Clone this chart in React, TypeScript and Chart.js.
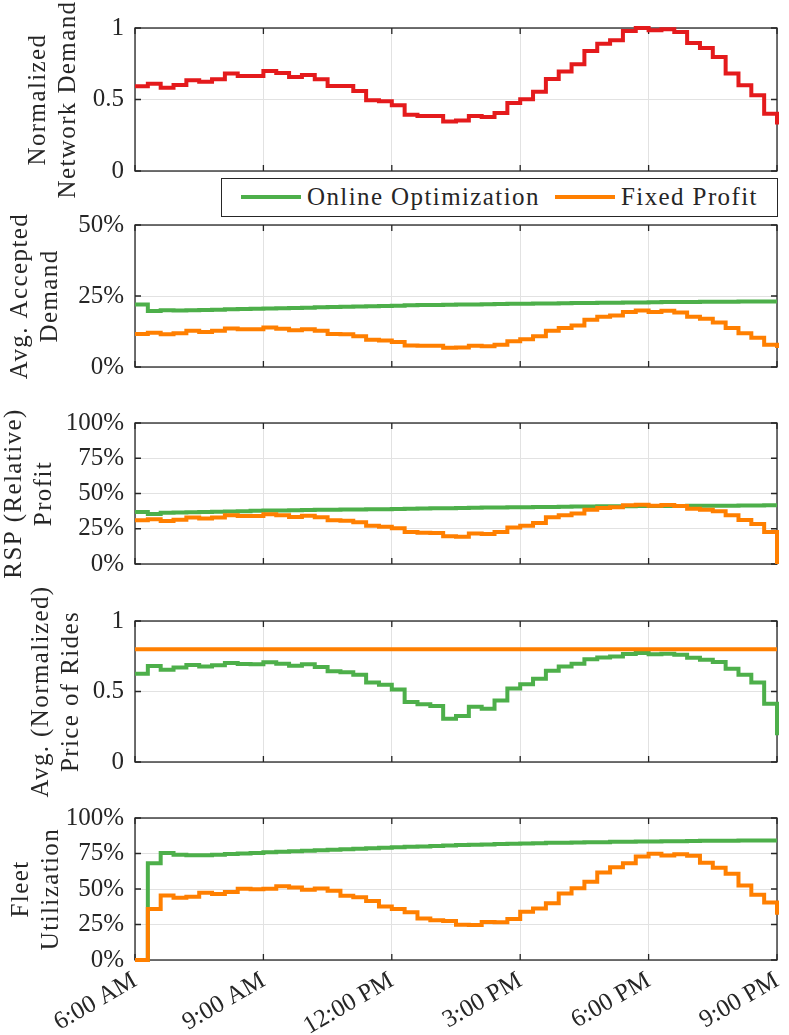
import { useEffect, useRef } from "react";
import { Chart, registerables } from "chart.js";

Chart.register(...registerables);

const FONT = "'Liberation Serif', serif";
const INK = "#262626";
const GRID = "#e2e2e2";
const RED = "#e41a1c";
const GREEN = "#4daf4a";
const ORANGE = "#ff7f00";
const TICK_LEN = 6;
const TITLE_SPACING = "1.4px";

// one value per 18-minute slot from 6:00 AM, plus the value at 9:00 PM
const timeLabels = ["6:00 AM", "9:00 AM", "12:00 PM", "3:00 PM", "6:00 PM", "9:00 PM"];
const seriesNames = ["Online Optimization", "Fixed Profit"];

const networkDemand = [
  0.592, 0.611, 0.583, 0.601, 0.634, 0.625, 0.641, 0.681, 0.664, 0.664,
  0.699, 0.685, 0.657, 0.671, 0.641, 0.594, 0.594, 0.559, 0.494, 0.487,
  0.459, 0.394, 0.385, 0.385, 0.347, 0.354, 0.385, 0.378, 0.406, 0.476,
  0.501, 0.555, 0.643, 0.695, 0.746, 0.839, 0.89, 0.914, 0.979, 1.0,
  0.984, 0.991, 0.972, 0.895, 0.86, 0.797, 0.681, 0.599, 0.529, 0.401, 0.326,
];

const acceptedOnline = [
  22.0, 19.7, 20.0, 19.9, 20.0, 20.1, 20.2, 20.3, 20.4, 20.5,
  20.6, 20.7, 20.8, 20.9, 21.0, 21.1, 21.2, 21.3, 21.4, 21.5,
  21.6, 21.7, 21.8, 21.85, 21.9, 22.0, 22.05, 22.1, 22.2, 22.25,
  22.3, 22.35, 22.4, 22.45, 22.5, 22.55, 22.6, 22.65, 22.7, 22.75,
  22.8, 22.85, 22.9, 22.9, 22.95, 23.0, 23.0, 23.05, 23.1, 23.1, 23.1,
];
const acceptedFixed = [
  11.6, 12.1, 11.5, 11.9, 12.8, 12.3, 12.8, 13.6, 13.3, 13.3,
  13.9, 13.5, 12.9, 13.3, 12.8, 11.6, 11.5, 10.8, 9.6, 9.3,
  8.8, 7.6, 7.5, 7.5, 6.8, 6.9, 7.5, 7.3, 7.8, 9.1,
  9.8, 10.8, 12.8, 13.7, 14.6, 16.6, 17.7, 18.1, 19.4, 19.9,
  19.4, 19.8, 19.2, 17.7, 17.0, 15.7, 13.7, 11.9, 10.3, 7.8, 6.7,
];

const profitOnline = [
  36.9, 35.4, 36.3, 36.5, 36.7, 36.9, 37.1, 37.3, 37.5, 37.7,
  37.9, 38.0, 38.2, 38.3, 38.4, 38.5, 38.6, 38.7, 38.8, 38.9,
  39.0, 39.2, 39.3, 39.5, 39.6, 39.8, 39.9, 40.0, 40.1, 40.2,
  40.3, 40.4, 40.5, 40.6, 40.7, 40.8, 40.9, 41.0, 41.0, 41.1,
  41.1, 41.2, 41.2, 41.3, 41.3, 41.4, 41.4, 41.5, 41.5, 41.6, 41.6,
];
const profitFixed = [
  31.0, 31.7, 30.5, 31.4, 32.9, 32.2, 32.9, 34.5, 34.0, 34.0,
  35.2, 34.5, 33.3, 34.3, 33.1, 31.0, 30.7, 29.6, 27.2, 26.5,
  25.3, 22.7, 22.2, 22.0, 19.6, 19.4, 21.7, 21.3, 22.7, 25.8,
  27.2, 29.1, 33.1, 34.5, 35.9, 38.5, 39.7, 40.2, 41.6, 42.1,
  41.4, 41.8, 41.1, 39.2, 38.5, 37.4, 34.5, 31.2, 28.4, 22.7, 0,
];

const priceOnline = [
  0.626, 0.681, 0.655, 0.671, 0.688, 0.678, 0.686, 0.702, 0.695, 0.693,
  0.707, 0.697, 0.683, 0.693, 0.674, 0.643, 0.636, 0.619, 0.563, 0.548,
  0.515, 0.426, 0.409, 0.397, 0.307, 0.326, 0.392, 0.378, 0.437, 0.522,
  0.551, 0.591, 0.648, 0.678, 0.697, 0.728, 0.742, 0.749, 0.766, 0.773,
  0.764, 0.768, 0.761, 0.74, 0.726, 0.709, 0.662, 0.619, 0.563, 0.414, 0.189,
];
const priceFixed = [
  0.8, 0.8, 0.8, 0.8, 0.8, 0.8, 0.8, 0.8, 0.8, 0.8,
  0.8, 0.8, 0.8, 0.8, 0.8, 0.8, 0.8, 0.8, 0.8, 0.8,
  0.8, 0.8, 0.8, 0.8, 0.8, 0.8, 0.8, 0.8, 0.8, 0.8,
  0.8, 0.8, 0.8, 0.8, 0.8, 0.8, 0.8, 0.8, 0.8, 0.8,
  0.8, 0.8, 0.8, 0.8, 0.8, 0.8, 0.8, 0.8, 0.8, 0.8, 0.8,
];

const utilOnline = [
  0, 68.2, 75.3, 74.2, 73.7, 73.8, 74.2, 74.6, 75.0, 75.4,
  75.8, 76.2, 76.6, 77.0, 77.3, 77.7, 78.0, 78.4, 78.7, 79.1,
  79.4, 79.7, 80.0, 80.3, 80.6, 80.9, 81.2, 81.4, 81.7, 81.9,
  82.1, 82.3, 82.5, 82.6, 82.8, 82.9, 83.0, 83.2, 83.3, 83.4,
  83.5, 83.6, 83.7, 83.8, 83.9, 83.9, 84.0, 84.1, 84.1, 84.2, 84.2,
];
const utilFixed = [
  0, 36.0, 45.4, 43.8, 44.5, 47.3, 46.4, 47.8, 50.1, 49.9,
  50.1, 52.0, 51.1, 49.4, 50.4, 48.7, 45.2, 44.2, 41.6, 37.6,
  36.0, 33.6, 29.2, 28.0, 27.5, 24.9, 24.7, 26.8, 26.6, 28.9,
  33.9, 36.2, 40.0, 46.8, 50.6, 55.1, 61.6, 65.4, 68.2, 72.9,
  74.8, 73.6, 74.4, 73.4, 68.5, 64.9, 60.7, 52.5, 45.9, 40.5, 31.8,
];

const toPoints = (vals: number[]) => vals.map((v, i) => ({ x: (i * 3) / 10, y: v }));

// axes box + inward ticks, and a wider letter spacing for the axis titles
const boxPlugin = {
  id: "boxFrame",
  beforeDraw(chart: any) {
    chart.ctx.letterSpacing = TITLE_SPACING;
  },
  beforeDatasetsDraw(chart: any) {
    const { ctx, chartArea: a, scales } = chart;
    ctx.letterSpacing = "0px";
    ctx.save();
    ctx.strokeStyle = INK;
    ctx.lineWidth = 1.3;
    ctx.strokeRect(a.left, a.top, a.right - a.left, a.bottom - a.top);
    ctx.beginPath();
    scales.x.ticks.forEach((t: any) => {
      const px = scales.x.getPixelForValue(t.value);
      ctx.moveTo(px, a.top);
      ctx.lineTo(px, a.top + TICK_LEN);
      ctx.moveTo(px, a.bottom);
      ctx.lineTo(px, a.bottom - TICK_LEN);
    });
    scales.y.ticks.forEach((t: any) => {
      const py = scales.y.getPixelForValue(t.value);
      ctx.moveTo(a.left, py);
      ctx.lineTo(a.left + TICK_LEN, py);
      ctx.moveTo(a.right, py);
      ctx.lineTo(a.right - TICK_LEN, py);
    });
    ctx.stroke();
    ctx.restore();
  },
};

type Series = { label: string; color: string; values: number[]; order: number };

type PanelProps = {
  top: number;
  height: number;
  padTop: number;
  series: Series[];
  yMax: number;
  yStep: number;
  percent: boolean;
  title: string[];
  titlePad: number;
  showTime?: boolean;
};

const X_AXIS_H = 75;
const PAD = 45;

function Panel({ top, height, padTop, series, yMax, yStep, percent, title, titlePad, showTime }: PanelProps) {
  const ref = useRef<HTMLCanvasElement | null>(null);

  useEffect(() => {
    if (!ref.current) return;
    const chart = new Chart(ref.current, {
      type: "line",
      data: {
        datasets: series.map((s) => ({
          label: s.label,
          data: toPoints(s.values),
          borderColor: s.color,
          backgroundColor: s.color,
          borderWidth: 4,
          pointRadius: 0,
          stepped: true,
          fill: false,
          clip: 8,
          order: s.order,
          borderJoinStyle: "miter",
        })),
      },
      options: {
        animation: false,
        responsive: true,
        maintainAspectRatio: false,
        layout: { padding: { left: 0, right: 12, top: padTop, bottom: showTime ? 0 : PAD } },
        plugins: { legend: { display: false }, tooltip: { enabled: false } },
        scales: {
          x: {
            type: "linear",
            min: 0,
            max: 15,
            grid: { color: GRID, lineWidth: 1, drawTicks: false },
            border: { display: false },
            ticks: {
              display: !!showTime,
              z: 1,
              stepSize: 3,
              autoSkip: false,
              minRotation: 30,
              maxRotation: 30,
              padding: 6,
              color: INK,
              font: { family: FONT, size: 25 },
              callback: (v: any) => timeLabels[Math.round(Number(v) / 3)],
            },
            afterFit: (s: any) => {
              s.paddingLeft = 0;
              s.paddingRight = 0;
              s.height = showTime ? X_AXIS_H : 0;
            },
          },
          y: {
            min: 0,
            max: yMax,
            grid: { color: GRID, lineWidth: 1, drawTicks: false },
            border: { display: false },
            ticks: {
              z: 1,
              stepSize: yStep,
              padding: 11,
              color: INK,
              font: { family: FONT, size: 25 },
              callback: (v: any) => (percent ? `${v}%` : `${v}`),
            },
            title: {
              display: true,
              text: title,
              color: INK,
              font: { family: FONT, size: 25, lineHeight: 1.18 },
              padding: { top: titlePad, bottom: 0 },
            },
            afterFit: (s: any) => {
              s.width = 135;
              s.paddingTop = 0;
              s.paddingBottom = 0;
            },
          },
        },
      },
      plugins: [boxPlugin],
    } as any);
    return () => chart.destroy();
  }, []);

  return (
    <div style={{ position: "absolute", left: 0, top, width: 789, height }}>
      <canvas ref={ref} />
    </div>
  );
}

export default function App() {
  const online = (values: number[]): Series => ({ label: seriesNames[0], color: GREEN, values, order: 1 });
  const fixed = (values: number[]): Series => ({ label: seriesNames[1], color: ORANGE, values, order: 0 });

  return (
    <div
      style={{
        position: "absolute",
        left: 0,
        top: 0,
        width: 789,
        height: 1035,
        overflow: "hidden",
        background: "#fff",
      }}
    >
      <Panel
        top={0}
        height={216}
        padTop={28}
        series={[{ label: "Normalized Network Demand", color: RED, values: networkDemand, order: 0 }]}
        yMax={1}
        yStep={0.5}
        percent={false}
        title={["Normalized", "Network Demand"]}
        titlePad={24}
      />
      <Panel
        top={180}
        height={232}
        padTop={PAD}
        series={[online(acceptedOnline), fixed(acceptedFixed)]}
        yMax={50}
        yStep={25}
        percent
        title={["Avg. Accepted", "Demand"]}
        titlePad={6}
      />
      <Panel
        top={378}
        height={231}
        padTop={PAD}
        series={[online(profitOnline), fixed(profitFixed)]}
        yMax={100}
        yStep={25}
        percent
        title={["RSP (Relative)", "Profit"]}
        titlePad={0}
      />
      <Panel
        top={576}
        height={231}
        padTop={PAD}
        series={[online(priceOnline), fixed(priceFixed)]}
        yMax={1}
        yStep={0.5}
        percent={false}
        title={["Avg. (Normalized)", "Price of Rides"]}
        titlePad={27}
      />
      <Panel
        top={773}
        height={262}
        padTop={PAD}
        series={[online(utilOnline), fixed(utilFixed)]}
        yMax={100}
        yStep={25}
        percent
        title={["Fleet", "Utilization"]}
        titlePad={7}
        showTime
      />
      <div
        style={{
          position: "absolute",
          left: 221,
          top: 178,
          width: 557,
          height: 39,
          boxSizing: "border-box",
          border: `1.3px solid ${INK}`,
          background: "#fff",
          fontFamily: FONT,
          fontSize: 25,
          letterSpacing: TITLE_SPACING,
          color: INK,
        }}
      >
        {[
          { name: seriesNames[0], color: GREEN, swatch: 19, text: 85 },
          { name: seriesNames[1], color: ORANGE, swatch: 333, text: 399 },
        ].map((item) => (
          <div key={item.name}>
            <div
              style={{
                position: "absolute",
                left: item.swatch,
                top: 16,
                width: 60,
                height: 4,
                background: item.color,
              }}
            />
            <div
              style={{
                position: "absolute",
                left: item.text,
                top: 0,
                lineHeight: "36px",
                whiteSpace: "nowrap",
              }}
            >
              {item.name}
            </div>
          </div>
        ))}
      </div>
    </div>
  );
}
